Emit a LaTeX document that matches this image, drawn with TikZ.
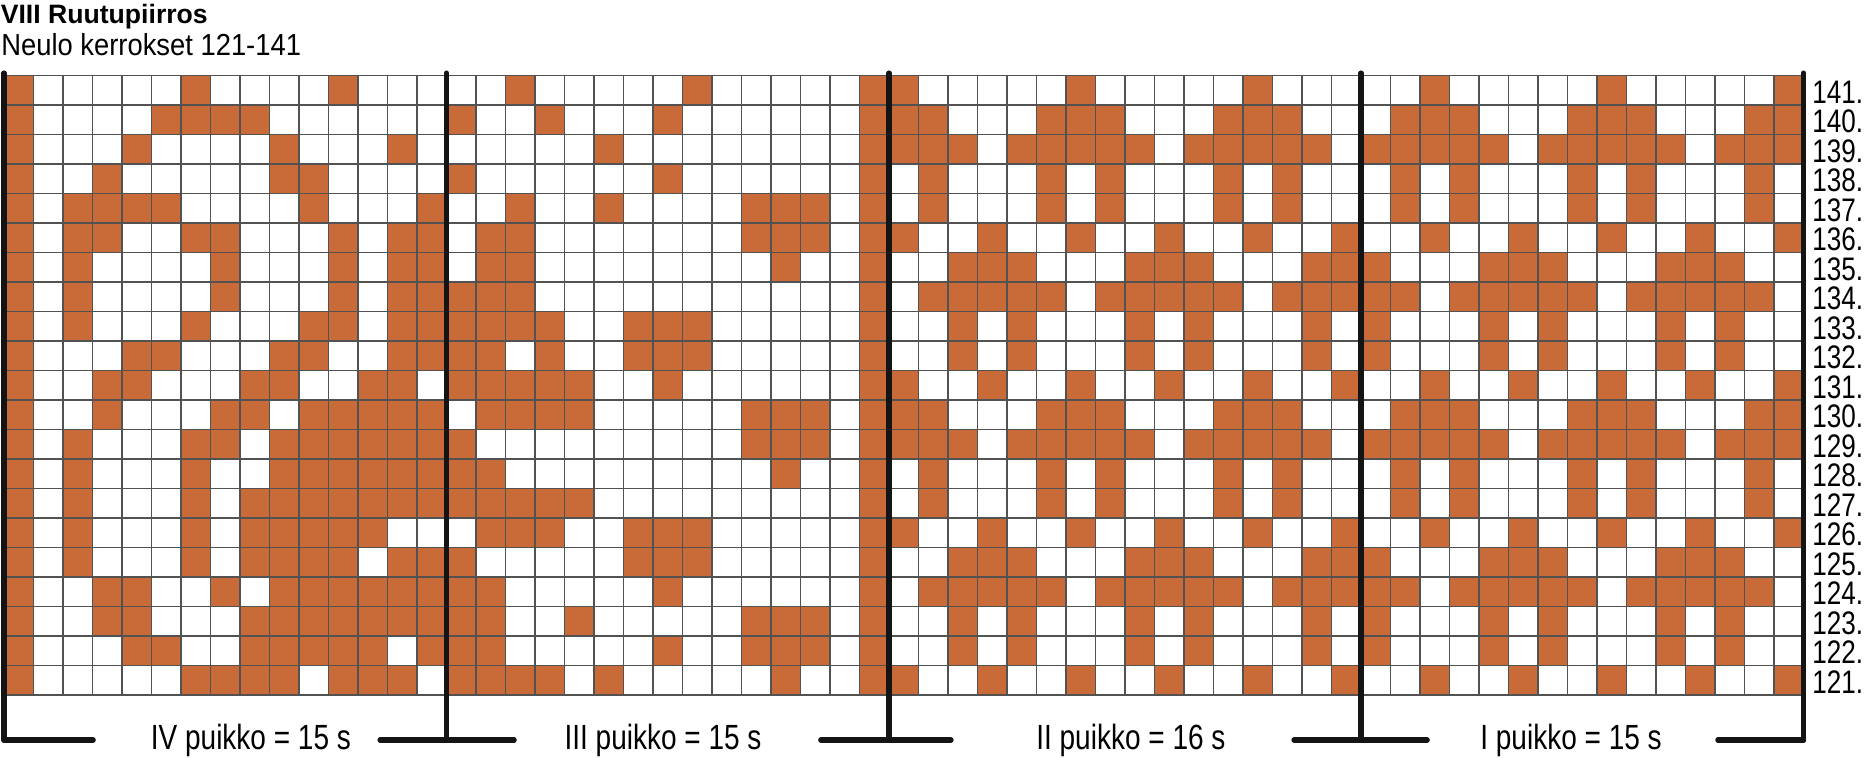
\documentclass[tikz,border=0pt]{standalone}
\usepackage{fontspec}
\setmainfont{Liberation Sans}
\newfontfamily\narrowfont[FakeStretch=0.8]{Liberation Sans}
\newfontfamily\subfont[FakeStretch=0.9]{Liberation Sans}
\definecolor{ruutu}{RGB}{201,107,56}

\begin{document}
\begin{tikzpicture}[x=14.75pt,y=14.75pt,
  knit/.style={fill=ruutu},
  gridline/.style={draw=black!68,line width=0.65pt},
  puikko/.style={draw=black!92,line width=2.7pt,line cap=round},
  rowlabel/.style={anchor=base west,inner sep=0pt,font=\fontsize{16.3}{18}\narrowfont},
  puikkolabel/.style={anchor=base,inner sep=0pt,font=\fontsize{17.5}{20}\narrowfont}]
  \useasboundingbox (-0.1356,-2.1017) rectangle (63.0847,23.5593);

  % heading
  \node[anchor=base west,inner sep=0pt,font=\fontsize{13.3}{16}\selectfont\bfseries]
    (title) at (-0.12,22.75) {VIII Ruutupiirros};
  \node[anchor=base west,inner sep=0pt,font=\fontsize{15.2}{18}\subfont]
    (subtitle) at (-0.1,21.69) {Neulo kerrokset 121-141};

  % coloured stitches, row by row (columns counted from the left)
  \foreach \r/\cells in {
    141/{1,7,12,18,24,30,31,37,43,49,55,61},
    140/{1,6,7,8,9,16,19,23,30,31,32,36,37,38,42,43,44,48,49,50,54,55,56,60,61},
    139/{1,5,10,14,21,30,31,32,33,35,36,37,38,39,41,42,43,44,45,47,48,49,50,51,53,54,55,56,57,59,60,61},
    138/{1,4,10,11,16,23,30,32,36,38,42,44,48,50,54,56,60},
    137/{1,3,4,5,6,11,15,18,21,26,27,28,30,32,36,38,42,44,48,50,54,56,60},
    136/{1,3,4,7,8,12,14,15,17,18,26,27,28,30,31,34,37,40,43,46,49,52,55,58,61},
    135/{1,3,8,12,14,15,17,18,27,30,33,34,35,39,40,41,45,46,47,51,52,53,57,58,59},
    134/{1,3,8,12,14,15,16,17,18,30,32,33,34,35,36,38,39,40,41,42,44,45,46,47,48,50,51,52,53,54,56,57,58,59,60},
    133/{1,3,7,11,12,14,15,16,17,18,19,22,23,24,30,33,35,39,41,45,47,51,53,57,59},
    132/{1,5,6,10,11,14,15,16,17,19,22,23,24,30,33,35,39,41,45,47,51,53,57,59},
    131/{1,4,5,9,10,13,14,16,17,18,19,20,23,30,31,34,37,40,43,46,49,52,55,58,61},
    130/{1,4,8,9,11,12,13,14,15,17,18,19,20,26,27,28,30,31,32,36,37,38,42,43,44,48,49,50,54,55,56,60,61},
    129/{1,3,7,8,10,11,12,13,14,15,16,26,27,28,30,31,32,33,35,36,37,38,39,41,42,43,44,45,47,48,49,50,51,53,54,55,56,57,59,60,61},
    128/{1,3,7,10,11,12,13,14,15,16,17,27,30,32,36,38,42,44,48,50,54,56,60},
    127/{1,3,7,9,10,11,12,13,14,15,16,17,18,19,20,30,32,36,38,42,44,48,50,54,56,60},
    126/{1,3,7,9,10,11,12,13,17,18,19,22,23,24,30,31,34,37,40,43,46,49,52,55,58,61},
    125/{1,3,7,9,10,11,12,14,15,16,22,23,24,30,33,34,35,39,40,41,45,46,47,51,52,53,57,58,59},
    124/{1,4,5,8,10,11,12,13,14,15,16,17,23,30,32,33,34,35,36,38,39,40,41,42,44,45,46,47,48,50,51,52,53,54,56,57,58,59,60},
    123/{1,4,5,9,10,11,12,13,14,15,16,17,20,26,27,28,30,33,35,39,41,45,47,51,53,57,59},
    122/{1,5,6,9,10,11,12,13,15,16,17,23,26,27,28,30,33,35,39,41,45,47,51,53,57,59},
    121/{1,7,8,9,10,12,13,14,16,17,18,19,21,27,30,31,34,37,40,43,46,49,52,55,58,61}}
    \foreach \c in \cells
      \fill[knit] (\c-1,\r-121) rectangle (\c,\r-120);

  \draw[gridline,step=1] (0,0) grid (61,21);

  % row numbers
  \foreach \r in {121,...,141}
    \node[rowlabel] (row\r) at (61.29,{\r-121+0.06}) {\r.};

  % needle dividers
  \foreach \x in {0,15,30,46,61}
    \draw[puikko] (\x,21.08) -- (\x,-1.525);
  \draw[puikko] (0,-1.525) -- (3.02,-1.525);
  \draw[puikko] (12.75,-1.525) -- (17.29,-1.525);
  \draw[puikko] (27.69,-1.525) -- (32.1,-1.525);
  \draw[puikko] (43.73,-1.525) -- (48.24,-1.525);
  \draw[puikko] (58.1,-1.525) -- (61,-1.525);

  \node[puikkolabel] (puikko4) at (8.37,-1.864) {IV puikko = 15 s};
  \node[puikkolabel] (puikko3) at (22.34,-1.864) {III puikko = 15 s};
  \node[puikkolabel] (puikko2) at (38.2,-1.864) {II puikko = 16 s};
  \node[puikkolabel] (puikko1) at (53.12,-1.864) {I puikko = 15 s};
\end{tikzpicture}
\end{document}
